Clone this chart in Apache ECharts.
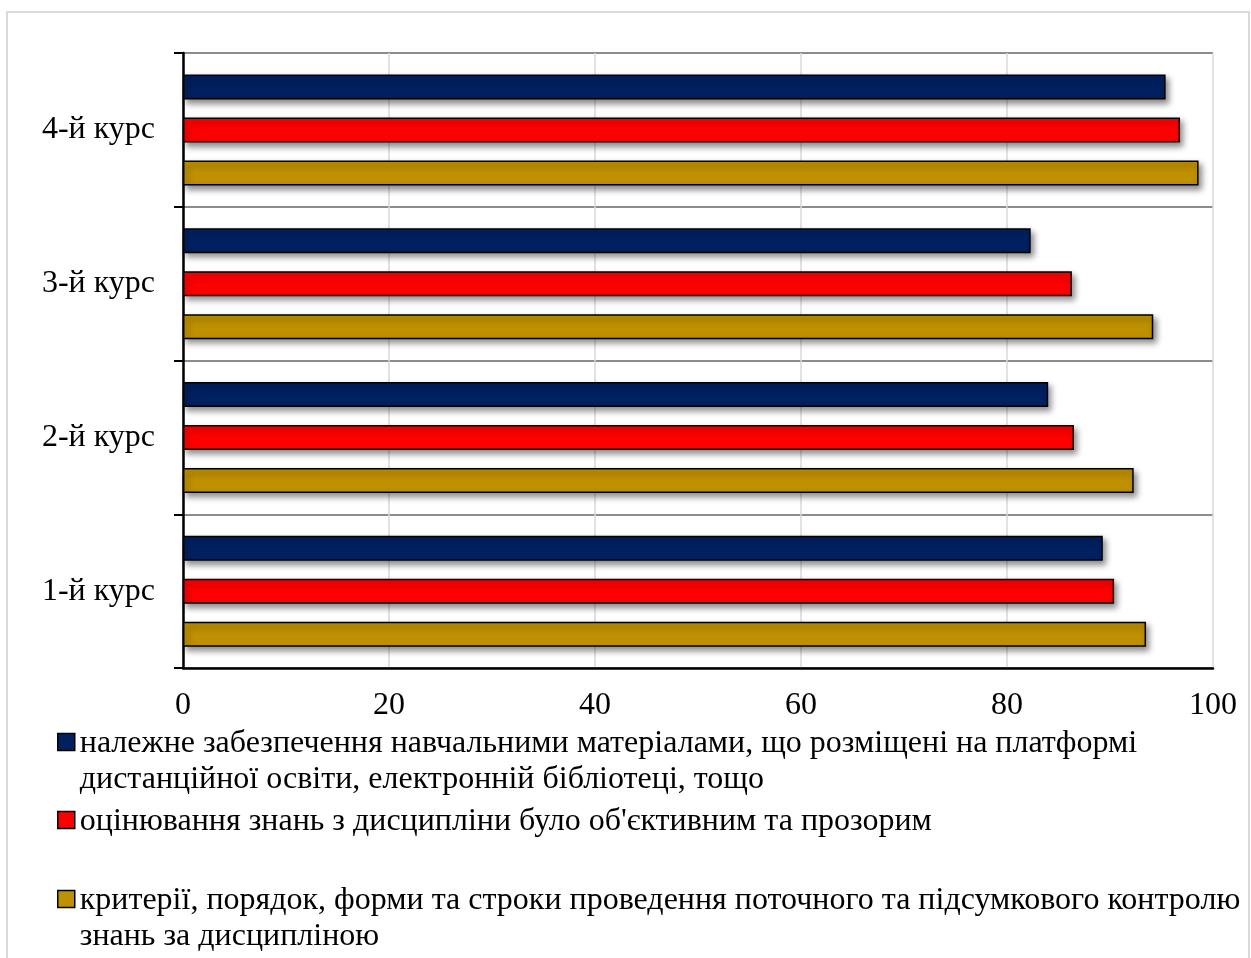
<!DOCTYPE html>
<html>
<head>
<meta charset="utf-8">
<script src="https://cdn.jsdelivr.net/npm/echarts@6/dist/echarts.min.js"></script>
<style>
html,body{margin:0;padding:0;background:#fff;}
#chart{width:1251px;height:958px;}
</style>
</head>
<body>
<div id="chart"></div>
<script>
const categories = ['1-й курс', '2-й курс', '3-й курс', '4-й курс'];
const seriesNames = [
  'належне забезпечення навчальними матеріалами, що розміщені на платформі дистанційної освіти, електронній бібліотеці, тощо',
  'оцінювання знань з дисципліни було об\'єктивним та прозорим',
  'критерії, порядок, форми та строки проведення поточного та підсумкового контролю знань за дисципліною'
];
const legendLines = [
  ['належне забезпечення навчальними матеріалами, що розміщені на платформі', 'дистанційної освіти, електронній бібліотеці, тощо'],
  ['оцінювання знань з дисципліни було об\'єктивним та прозорим'],
  ['критерії, порядок, форми та строки проведення поточного та підсумкового контролю', 'знань за дисципліною']
];
const materials = [89.3, 84.0, 82.3, 95.4];
const assessment = [90.4, 86.5, 86.3, 96.8];
const criteria = [93.5, 92.3, 94.2, 98.6];
const colors = ['#002060', '#FF0000', '#BF9000'];
const xTicks = [0, 20, 40, 60, 80, 100];

const FONT = '"Liberation Serif", "Times New Roman", serif';
const FS = 32;
const chart = echarts.init(document.getElementById('chart'));

const barStyle = (c) => ({
  color: c,
  borderColor: '#000',
  borderWidth: 1.5,
  shadowBlur: 6,
  shadowColor: 'rgba(0,0,0,0.45)',
  shadowOffsetX: 3,
  shadowOffsetY: 4
});

const legendBase = (idx, top) => ({
  data: [seriesNames[idx]],
  left: 57,
  top: top,
  orient: 'vertical',
  padding: 0,
  icon: 'rect',
  itemWidth: 17,
  itemHeight: 17,
  selectedMode: false,
  itemStyle: { borderColor: '#000', borderWidth: 1.5, shadowBlur: 0, shadowOffsetX: 0, shadowOffsetY: 0 },
  formatter: () => {
    const lines = legendLines[idx];
    if (lines.length === 1) return '{a|' + lines[0] + '}';
    return '{sp| }\n' + lines.map(l => '{a|' + l + '}').join('\n');
  },
  textStyle: {
    fontFamily: FONT, fontSize: FS, color: '#000', lineHeight: 36,
    rich: {
      sp: { fontSize: 10, lineHeight: 36 },
      a: { fontFamily: FONT, fontSize: FS, color: '#000', lineHeight: 36, padding: [4, 0, 0, 0] }
    }
  }
});

const data = [materials, assessment, criteria];

chart.setOption({
  backgroundColor: '#fff',
  animation: false,
  graphic: [{
    type: 'rect',
    shape: { x: 7, y: 12, width: 1242, height: 960 },
    style: { fill: 'none', stroke: '#d9d9d9', lineWidth: 2 },
    z: -1
  }],
  legend: [
    legendBase(0, 688),
    legendBase(1, 802),
    legendBase(2, 845)
  ],
  grid: { left: 183, right: 38, top: 53, bottom: 290, containLabel: false },
  xAxis: {
    type: 'value',
    min: xTicks[0],
    max: xTicks[xTicks.length - 1],
    interval: xTicks[1] - xTicks[0],
    axisLine: { show: true, lineStyle: { color: '#000', width: 2.5 } },
    axisTick: { show: false },
    axisLabel: { fontFamily: FONT, fontSize: FS, color: '#000', margin: 22 },
    splitLine: { show: true, lineStyle: { color: '#d9d9d9', width: 1.5 } }
  },
  yAxis: {
    type: 'category',
    data: categories,
    axisLine: { show: true, lineStyle: { color: '#000', width: 2.5 } },
    axisTick: { show: true, length: 9, lineStyle: { color: '#000', width: 2 } },
    axisLabel: { fontFamily: FONT, fontSize: FS, color: '#000', margin: 28 },
    splitLine: { show: true, lineStyle: { color: '#8c8c8c', width: 2 } }
  },
  series: data.map((d, i) => ({
    name: seriesNames[i],
    type: 'bar',
    data: d,
    barWidth: 25,
    barGap: '72%',
    itemStyle: barStyle(colors[i])
  }))
});
</script>
</body>
</html>
